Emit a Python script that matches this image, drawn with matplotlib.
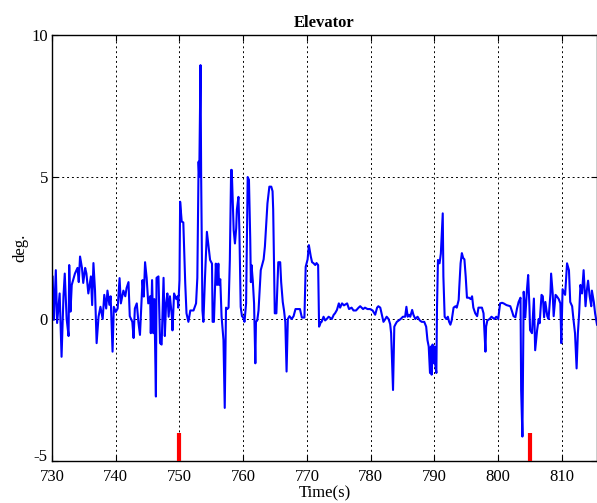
import numpy as np
import matplotlib.pyplot as plt
import matplotlib.transforms as mtransforms

# elevator deflection (time in s, angle in deg)
time = [
    730.1, 730.3, 730.6, 730.8, 731.2, 731.5, 731.8, 732.0, 732.3, 732.6,
    732.7, 732.9, 733.1, 733.4, 733.6, 734.0, 734.2, 734.4, 734.7, 734.9,
    735.2, 735.4, 735.7, 736.1, 736.3, 736.5, 736.75, 737.0, 737.3, 737.6,
    737.95, 738.2, 738.5, 738.7, 739.0, 739.2, 739.5, 739.7, 740.0, 740.3,
    740.6, 740.8, 741.2, 741.5, 741.7, 742.0, 742.2, 742.6, 742.8, 743.0,
    743.3, 743.55, 743.8, 744.2, 744.4, 744.6, 744.85, 745.1, 745.4, 745.5,
    745.7, 745.9, 746.06, 746.3, 746.4, 746.7, 746.95, 747.2, 747.5, 747.7,
    747.9, 748.1, 748.3, 748.5, 748.8, 748.9, 749.15, 749.5, 749.7, 749.8,
    750.0, 750.1, 750.35, 750.6, 750.9, 751.1, 751.4, 751.7, 752.2, 752.6,
    752.8, 753.0, 753.1, 753.3, 753.4, 753.6, 753.75, 754.0, 754.3, 754.5,
    754.8, 755.1, 755.2, 755.4, 755.7, 755.9, 756.1, 756.2, 756.4, 756.6,
    756.9, 757.1, 757.3, 757.5, 757.7, 757.9, 758.1, 758.2, 758.5, 758.7,
    758.9, 759.0, 759.25, 759.4, 759.6, 759.8, 760.0, 760.2, 760.45, 760.7,
    760.9, 761.1, 761.2, 761.3, 761.5, 761.7, 761.9, 762.0, 762.2, 762.4,
    762.75, 762.96, 763.2, 763.4, 763.6, 763.8, 764.1, 764.4, 764.6, 764.7,
    764.95, 765.2, 765.4, 765.5, 765.8, 765.95, 766.2, 766.4, 766.6, 766.8,
    767.0, 767.25, 767.6, 767.9, 768.2, 768.7, 768.9, 769.2, 769.6, 769.8,
    770.1, 770.3, 770.6, 770.8, 771.0, 771.3, 771.5, 771.75, 771.9, 772.2,
    772.3, 772.6, 772.85, 773.1, 773.4, 773.9, 774.2, 774.4, 774.7, 775.0,
    775.2, 775.5, 775.8, 776.3, 776.6, 777.0, 777.3, 777.7, 778.1, 778.35,
    778.8, 779.1, 779.5, 779.9, 780.3, 780.7, 781.0, 781.2, 781.5, 781.75,
    782.0, 782.3, 782.5, 782.8, 783.05, 783.2, 783.4, 783.5, 783.7, 783.9,
    784.1, 784.4, 784.7, 785.05, 785.4, 785.6, 785.8, 786.0, 786.2, 786.5,
    786.7, 787.0, 787.35, 787.7, 788.0, 788.4, 788.7, 788.9, 789.1, 789.3,
    789.45, 789.55, 789.7, 789.9, 790.0, 790.1, 790.3, 790.4, 790.55, 790.8,
    791.0, 791.3, 791.4, 791.6, 791.85, 792.1, 792.3, 792.5, 792.7, 793.0,
    793.3, 793.5, 793.8, 793.9, 794.1, 794.3, 794.5, 794.7, 794.9, 795.1,
    795.4, 795.7, 795.9, 796.1, 796.4, 796.7, 796.9, 797.45, 797.7, 798.0,
    798.1, 798.3, 798.65, 798.95, 799.4, 799.7, 800.0, 800.3, 800.6, 800.85,
    801.3, 801.6, 801.9, 802.2, 802.4, 802.7, 802.95, 803.2, 803.5, 803.6,
    803.8, 804.0, 804.25, 804.5, 804.7, 804.9, 805.0, 805.3, 805.6, 805.8,
    806.1, 806.35, 806.5, 806.8, 807.0, 807.2, 807.4, 807.7, 807.9, 808.2,
    808.3, 808.55, 808.7, 809.0, 809.2, 809.5, 809.75, 809.9, 810.1, 810.3,
    810.5, 810.8, 811.1, 811.3, 811.6, 811.8, 812.05, 812.3, 812.5, 812.7,
    812.9, 813.15, 813.4, 813.7, 813.9, 814.1, 814.35, 814.6, 814.7, 815.0,
    815.2, 815.5,
]
elevator = [
    1.49, -0.03, 1.72, -0.14, 0.9, -1.33, 0.8, 1.6, 0.0, -0.6,
    1.9, 0.26, 1.2, 1.44, 1.6, 1.8, 1.3, 2.2, 1.8, 1.27,
    1.8, 1.6, 0.9, 1.5, 0.49, 1.97, 1.0, -0.85, 0.08, 0.43,
    0.0, 0.85, 0.37, 1.0, 0.5, 0.8, -1.15, 0.43, 0.25, 0.37,
    1.44, 0.55, 1.0, 0.8, 1.09, 1.3, 0.1, -0.1, -0.67, 0.37,
    0.55, -0.1, -0.56, 1.37, 0.79, 2.0, 1.45, 0.55, 0.8, -0.5,
    1.37, -0.5, 0.7, -2.73, 1.45, 1.5, -0.85, -0.9, 1.45, -0.6,
    0.55, 0.9, 0.08, 0.8, 0.1, -0.4, 0.9, 0.7, 0.8, 0.4,
    1.37, 4.13, 3.43, 3.4, 1.27, 0.2, -0.1, 0.3, 0.3, 0.55,
    1.45, 5.54, 5.0, 8.94, 5.0, 0.3, -0.1, 1.45, 3.07, 2.66,
    2.08, 1.95, -0.1, -0.1, 1.95, 1.2, 1.95, 1.2, 1.4, 0.1,
    -0.74, -3.13, 0.4, 0.35, 0.4, 2.08, 5.25, 5.25, 3.13, 2.66,
    3.2, 3.84, 4.3, 3.1, 0.43, 0.1, 0.05, -0.1, 0.55, 5.0,
    4.9, 2.8, 1.3, 1.9, 1.35, 0.55, -1.56, -0.1, -0.05, 0.3,
    1.72, 1.9, 2.1, 2.55, 3.3, 4.07, 4.66, 4.66, 4.5, 3.85,
    0.2, 0.2, 1.4, 2.0, 2.0, 1.3, 0.6, 0.3, -0.1, -1.85,
    0.0, 0.1, 0.0, 0.1, 0.35, 0.35, 0.35, 0.05, 0.05, 1.84,
    2.1, 2.6, 2.2, 2.0, 1.97, 1.9, 1.97, 1.9, -0.27, -0.1,
    -0.1, 0.08, -0.05, 0.0, 0.08, 0.0, 0.15, 0.2, 0.32, 0.55,
    0.4, 0.55, 0.48, 0.55, 0.35, 0.4, 0.3, 0.3, 0.4, 0.45,
    0.35, 0.4, 0.35, 0.35, 0.3, 0.15, 0.4, 0.45, 0.4, 0.15,
    -0.1, 0.0, 0.08, 0.0, -0.18, -0.5, -1.9, -2.5, -0.27, -0.18,
    -0.1, -0.05, 0.0, 0.08, 0.08, 0.43, 0.08, 0.15, 0.08, 0.32,
    0.15, 0.0, 0.08, -0.05, -0.1, -0.1, -0.27, -0.74, -0.97, -1.9,
    -0.97, -1.96, -0.9, -1.56, -0.97, -1.56, -1.9, 0.4, 2.08, 1.96,
    2.3, 3.72, 1.5, 0.08, 0.0, 0.08, -0.1, -0.2, -0.05, 0.4,
    0.45, 0.4, 0.67, 1.14, 1.96, 2.32, 2.15, 2.1, 1.5, 0.75,
    0.75, 0.7, 0.8, 0.4, 0.2, 0.1, 0.4, 0.4, 0.2, -1.15,
    -0.27, -0.05, 0.0, 0.08, 0.0, 0.08, 0.0, 0.55, 0.57, 0.55,
    0.49, 0.47, 0.45, 0.25, 0.1, 0.06, 0.37, 0.6, 0.75, -2.5,
    -4.14, 0.96, 0.05, 1.0, 1.55, 0.43, -0.39, -0.5, 0.72, -1.1,
    -0.4, 0.0, -0.15, 0.85, 0.8, 0.06, 0.6, 0.1, 0.0, 0.9,
    1.6, 0.9, 0.1, 0.85, 0.8, 0.7, 0.55, -0.85, 1.05, 0.95,
    0.85, 1.96, 1.72, 0.6, 0.45, 0.0, -0.5, -1.74, -0.5, 0.2,
    1.2, 0.9, 1.72, 0.45, 1.0, 1.35, 0.8, 0.45, 1.0, 0.6,
    0.2, -0.2,
]

# event markers at the bottom of the plot
event_times = [750, 805]
event_low, event_high = -5, -4

x_ticks = [730, 740, 750, 760, 770, 780, 790, 800, 810]
y_ticks = [-5, 0, 5, 10]

plt.rcParams['font.family'] = ['Liberation Serif', 'DejaVu Serif']
plt.rcParams['axes.unicode_minus'] = False

fig = plt.figure(figsize=(5.97, 5.03), dpi=100)
ax = fig.add_axes([0.0871, 0.0835, 0.9129, 0.8469])

ax.plot(time, elevator, color='blue', linewidth=1.5)
ax.vlines(event_times, event_low, event_high, color='red', linewidth=3,
          clip_on=False, zorder=3)

ax.set_xlim(730, 815.5)
ax.set_ylim(-5, 10)
ax.set_xticks(x_ticks)
ax.set_yticks(y_ticks)
ax.grid(True, color='black', linestyle=(0, (2, 3)), linewidth=0.7)
ax.tick_params(direction='in', length=4, top=True, right=True, labelsize=12)
ax.tick_params(axis='x', pad=6)
ax.tick_params(axis='y', pad=3)
for spine in ax.spines.values():
    spine.set_linewidth(1.0)

# lift the lowest y label a little so it clears the first x label
lowest = ax.get_yticklabels()[0]
lowest.set_transform(lowest.get_transform() +
                     mtransforms.ScaledTranslation(0, 4 / 72, fig.dpi_scale_trans))

ax.set_title('Elevator', fontsize=12, fontweight='bold', pad=6)
ax.set_xlabel('Time(s)', fontsize=12, labelpad=0)
ax.set_ylabel('deg.', fontsize=12, labelpad=2)

fig.savefig('out.png', dpi=100)
